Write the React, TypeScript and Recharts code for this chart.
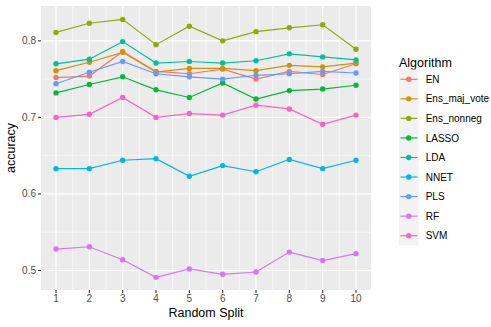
import React from "react";
import { LineChart, Line, XAxis, YAxis, CartesianGrid, Legend, Label } from "recharts";

const splits = [1, 2, 3, 4, 5, 6, 7, 8, 9, 10];
const algorithms = ["EN", "Ens_maj_vote", "Ens_nonneg", "LASSO", "LDA", "NNET", "PLS", "RF", "SVM"];
const colors = ["#F8766D", "#D39200", "#93AA00", "#00BA38", "#00C19F", "#00B9E3", "#619CFF", "#DB72FB", "#FF61C3"];

const EN = [0.752, 0.754, 0.786, 0.76, 0.757, 0.763, 0.75, 0.76, 0.756, 0.77];
const Ens_maj_vote = [0.761, 0.772, 0.785, 0.759, 0.764, 0.764, 0.761, 0.768, 0.766, 0.771];
const Ens_nonneg = [0.811, 0.823, 0.828, 0.795, 0.819, 0.8, 0.812, 0.817, 0.821, 0.789];
const LASSO = [0.732, 0.743, 0.753, 0.736, 0.726, 0.745, 0.724, 0.735, 0.737, 0.742];
const LDA = [0.77, 0.776, 0.799, 0.771, 0.773, 0.771, 0.774, 0.783, 0.779, 0.775];
const NNET = [0.633, 0.633, 0.644, 0.646, 0.623, 0.637, 0.629, 0.645, 0.633, 0.644];
const PLS = [0.744, 0.759, 0.773, 0.757, 0.753, 0.75, 0.755, 0.757, 0.76, 0.758];
const RF = [0.528, 0.531, 0.514, 0.491, 0.502, 0.495, 0.498, 0.524, 0.513, 0.522];
const SVM = [0.7, 0.704, 0.726, 0.7, 0.705, 0.703, 0.716, 0.711, 0.691, 0.703];

const yTicks = [0.5, 0.6, 0.7, 0.8];
const yMinor = [0.55, 0.65, 0.75];
const xMinor = [1.5, 2.5, 3.5, 4.5, 5.5, 6.5, 7.5, 8.5, 9.5];

const seriesValues = [EN, Ens_maj_vote, Ens_nonneg, LASSO, LDA, NNET, PLS, RF, SVM];

const data = splits.map((s, i) => {
  const row: Record<string, number> = { split: s };
  algorithms.forEach((a, j) => {
    row[a] = seriesValues[j][i];
  });
  return row;
});

const FONT = "'Liberation Sans', Arial, sans-serif";

function LegendBox() {
  return (
    <svg width={113} height={200} style={{ display: "block" }}>
      <text x={11} y={17} fontSize={12.5} fontFamily={FONT} fill="#000">
        Algorithm
      </text>
      <rect x={11} y={19.5} width={19.5} height={19.55 * algorithms.length} fill="#F2F2F2" />
      {algorithms.map((a, i) => {
        const cy = 29.3 + i * 19.55;
        return (
          <g key={a}>
            <line x1={12.5} x2={29.5} y1={cy} y2={cy} stroke={colors[i]} strokeWidth={1.2} />
            <circle cx={20.75} cy={cy} r={2.7} fill={colors[i]} />
            <text x={37.7} y={cy + 3.6} fontSize={10} fontFamily={FONT} fill="#000">
              {a}
            </text>
          </g>
        );
      })}
    </svg>
  );
}

export default function App() {
  return (
    <div style={{ position: "absolute", left: 0, top: 0, width: 491, height: 327, background: "#fff" }}>
      <LineChart width={491} height={327} data={data} margin={{ top: 6, right: 120, bottom: 0, left: 0 }}>
        <CartesianGrid
          fill="#EBEBEB"
          stroke="#FFFFFF"
          strokeWidth={0.6}
          horizontalValues={yMinor}
          verticalValues={xMinor}
        />
        <CartesianGrid
          stroke="#FFFFFF"
          strokeWidth={1.2}
          horizontalValues={yTicks}
          verticalValues={splits}
        />
        <XAxis
          dataKey="split"
          type="number"
          domain={[0.55, 10.45]}
          ticks={splits}
          allowDataOverflow
          height={37}
          axisLine={false}
          tickLine={{ stroke: "#333333", strokeWidth: 1.1 }}
          tickSize={3}
          tickMargin={2}
          tick={{ fill: "#4D4D4D", fontSize: 10, fontFamily: FONT }}
          interval={0}
        >
          <Label
            content={() => (
              <text x={206} y={317} textAnchor="middle" fontSize={12.5} fontFamily={FONT} fill="#000">
                Random Split
              </text>
            )}
          />
        </XAxis>
        <YAxis
          type="number"
          domain={[0.4745, 0.8455]}
          ticks={yTicks}
          allowDataOverflow
          width={41}
          axisLine={false}
          tickLine={{ stroke: "#333333", strokeWidth: 1.1 }}
          tickSize={3}
          tickMargin={2}
          tickFormatter={(v: number) => v.toFixed(1)}
          tick={{ fill: "#4D4D4D", fontSize: 10, fontFamily: FONT }}
        >
          <Label
            content={() => (
              <text
                x={15}
                y={148}
                transform="rotate(-90 15 148)"
                textAnchor="middle"
                fontSize={12.5}
                fontFamily={FONT}
                fill="#000"
              >
                accuracy
              </text>
            )}
          />
        </YAxis>
        <Legend
          layout="vertical"
          align="center"
          verticalAlign="middle"
          wrapperStyle={{ left: 388, top: 50, width: 113 }}
          content={() => <LegendBox />}
        />
        {algorithms.map((a, i) => (
          <Line
            key={"l-" + a}
            dataKey={a}
            type="linear"
            stroke={colors[i]}
            strokeWidth={1.2}
            dot={false}
            activeDot={false}
            isAnimationActive={false}
          />
        ))}
        {algorithms.map((a, i) => (
          <Line
            key={"p-" + a}
            dataKey={a}
            type="linear"
            stroke="none"
            strokeWidth={0}
            dot={{ r: 2.7, fill: colors[i], stroke: colors[i], strokeWidth: 0 }}
            activeDot={false}
            legendType="none"
            isAnimationActive={false}
          />
        ))}
      </LineChart>
    </div>
  );
}
